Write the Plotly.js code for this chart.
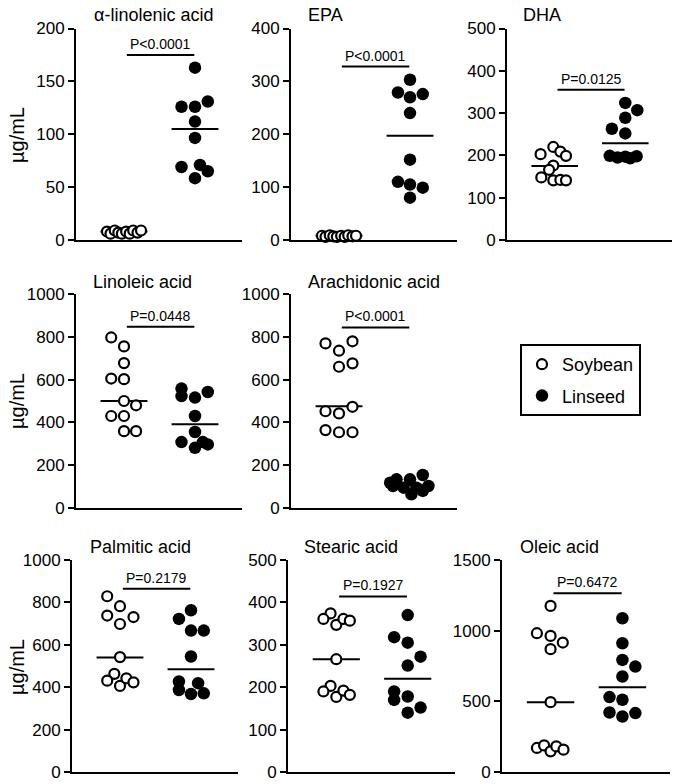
<!DOCTYPE html>
<html><head><meta charset="utf-8">
<script src="https://cdn.plot.ly/plotly-3.0.1.min.js"></script>
<style>html,body{margin:0;padding:0;background:#fff}</style>
</head><body>
<div id="chart" style="width:680px;height:784px"></div>
<script>
// ---------------- DATA ----------------
const groups = ['Soybean', 'Linseed'];
const panelTitles = ['α-linolenic acid', 'EPA', 'DHA', 'Linoleic acid', 'Arachidonic acid', 'Palmitic acid', 'Stearic acid', 'Oleic acid'];
const pLabels = ['P<0.0001', 'P<0.0001', 'P=0.0125', 'P=0.0448', 'P<0.0001', 'P=0.2179', 'P=0.1927', 'P=0.6472'];
const pBarLevel = [175, 328, 355, 847, 844, 864, 414, 1264];
const yMax = [200, 400, 500, 1000, 1000, 1000, 500, 1500];
const yStep = [50, 100, 100, 200, 200, 200, 100, 500];
const meanSoy = [8, 8, 175, 500, 475, 540, 266, 494];
const meanLin = [105, 197, 229, 391, 105, 485, 220, 600];

// α-linolenic acid
const alaSoy  = [8, 6, 9, 7, 6, 8, 6, 9, 7, 9];
const alaSoyJ = [-0.24, -0.19, -0.13, -0.08, -0.03, 0.03, 0.08, 0.13, 0.19, 0.24];
const alaLin  = [163, 126, 126, 131, 112, 96.5, 69, 71, 65, 58.5];
const alaLinJ = [0, -0.19, 0, 0.18, 0, 0, -0.19, 0.07, 0.18, 0];
// EPA
const epaSoy  = [8, 6, 9, 7, 6, 8, 6, 9, 7, 8];
const epaSoyJ = [-0.24, -0.19, -0.13, -0.08, -0.03, 0.03, 0.08, 0.13, 0.19, 0.24];
const epaLin  = [303, 279, 270, 276, 240, 152, 110, 105, 99, 80];
const epaLinJ = [0, -0.17, 0, 0.18, 0, 0, -0.17, 0, 0.18, 0];
// DHA
const dhaSoy  = [203, 220, 209, 199, 176, 166, 148, 141, 142, 141];
const dhaSoyJ = [-0.2, -0.02, 0.08, 0.16, -0.02, -0.08, -0.19, -0.02, 0.08, 0.16];
const dhaLin  = [324, 307, 289, 263, 252, 199, 195, 197, 193, 198];
const dhaLinJ = [0, 0.17, 0, -0.19, 0, -0.22, -0.11, 0, 0.07, 0.16];
// Linoleic acid
const laSoy   = [797, 755, 677, 605, 602, 500, 480, 430, 430, 359, 359];
const laSoyJ  = [-0.18, 0, 0, -0.18, 0, 0, 0.17, -0.18, 0, 0, 0.17];
const laLin   = [558, 523, 516, 542, 430, 355, 308, 281, 308, 297];
const laLinJ  = [-0.19, -0.19, 0, 0.18, 0, 0, -0.19, 0, 0.11, 0.18];
// Arachidonic acid
const aaSoy   = [769, 735, 779, 660, 676, 452, 442, 473, 364, 354, 354];
const aaSoyJ  = [-0.19, 0, 0.19, 0, 0.19, -0.19, 0, 0.19, -0.19, 0, 0.19];
const aaLin   = [154, 134, 134, 118, 103, 95, 95, 103, 64, 80];
const aaLinJ  = [0.18, -0.19, 0, -0.28, -0.24, -0.09, 0.09, 0.26, 0.02, 0.18];
// Palmitic acid
const paSoy   = [829, 738, 782, 731, 698, 542, 463, 431, 406, 442, 423];
const paSoyJ  = [-0.18, -0.18, 0, 0.19, 0, 0, -0.08, -0.18, 0, 0.09, 0.19];
const paLin   = [763, 722, 667, 667, 545, 427, 419, 387, 368, 371];
const paLinJ  = [0, -0.17, 0, 0.18, 0, -0.17, 0.1, -0.17, 0, 0.18];
// Stearic acid
const saSoy   = [374, 361, 347, 361, 357, 266, 203, 190, 177, 192, 182];
const saSoyJ  = [-0.08, -0.18, 0, 0.1, 0.19, 0, -0.08, -0.18, 0, 0.1, 0.19];
const saLin   = [370, 318, 305, 272, 251, 190, 170, 178, 140, 152];
const saLinJ  = [0, -0.19, 0, 0.18, 0, -0.19, -0.19, 0, 0, 0.18];
// Oleic acid
const oaSoy   = [1175, 982, 963, 916, 869, 494, 170, 188, 146, 181, 158];
const oaSoyJ  = [0, -0.19, 0, 0.17, 0, 0, -0.19, -0.09, 0, 0.08, 0.18];
const oaLin   = [1088, 911, 793, 746, 676, 530, 511, 421, 393, 417];
const oaLinJ  = [0, 0, 0, 0.18, 0, -0.18, 0, -0.18, 0, 0.18];

const soyData = [alaSoy, epaSoy, dhaSoy, laSoy, aaSoy, paSoy, saSoy, oaSoy];
const soyJit  = [alaSoyJ, epaSoyJ, dhaSoyJ, laSoyJ, aaSoyJ, paSoyJ, saSoyJ, oaSoyJ];
const linData = [alaLin, epaLin, dhaLin, laLin, aaLin, paLin, saLin, oaLin];
const linJit  = [alaLinJ, epaLinJ, dhaLinJ, laLinJ, aaLinJ, paLinJ, saLinJ, oaLinJ];

// ---------------- LAYOUT GEOMETRY ----------------
const W = 680, H = 784;
const boxes = [
  [76, 242, 28.5, 240], [291, 457, 28.5, 240], [507, 672, 28.5, 240],
  [76, 242, 294, 508], [291, 457, 294, 508],
  [72, 238, 560, 772], [288, 455, 560, 772], [502, 670, 560, 772]
];
const titlePos = [[153, 15], [325, 15], [542, 15], [142, 282], [374, 282], [140, 547], [351, 547], [559, 547]];
const yTitleRows = [135, 401, 667];
const FONT = 'Arial, "Liberation Sans", sans-serif';

const traces = [];
const annotations = [];
const layout = {
  width: W, height: H,
  margin: {l: 0, r: 0, t: 0, b: 0},
  paper_bgcolor: '#fff', plot_bgcolor: '#fff',
  font: {family: FONT, color: '#000'},
  hovermode: false,
  showlegend: true,
  legend: {
    x: 520 / W, y: 1 - 344 / H, xanchor: 'left', yanchor: 'top',
    bordercolor: '#000', borderwidth: 2, bgcolor: '#fff',
    font: {family: FONT, size: 18, color: '#000'},
    tracegroupgap: 5, entrywidth: 88, entrywidthmode: 'pixels'
  }
};

panelTitles.forEach((title, i) => {
  const n = i + 1;
  const sfx = n === 1 ? '' : String(n);
  const xa = 'x' + sfx, ya = 'y' + sfx;
  const b = boxes[i];

  // mean lines (drawn first, beneath the markers)
  traces.push({
    type: 'scatter', mode: 'lines', xaxis: xa, yaxis: ya, showlegend: false, hoverinfo: 'skip',
    x: [1 - 0.33, 1 + 0.33, null, 2 - 0.33, 2 + 0.33],
    y: [meanSoy[i], meanSoy[i], null, meanLin[i], meanLin[i]],
    line: {color: '#000', width: 2}, cliponaxis: false
  });
  // significance bar
  traces.push({
    type: 'scatter', mode: 'lines', xaxis: xa, yaxis: ya, showlegend: false, hoverinfo: 'skip',
    x: [1.04, 1.99], y: [pBarLevel[i], pBarLevel[i]],
    line: {color: '#000', width: 2}, cliponaxis: false
  });
  // Soybean
  traces.push({
    type: 'scatter', mode: 'markers', name: groups[0], legendgroup: 'soy', showlegend: i === 0,
    xaxis: xa, yaxis: ya, cliponaxis: false,
    x: soyJit[i].map(d => 1 + d), y: soyData[i],
    marker: {symbol: 'circle', size: 10, color: '#fff', line: {color: '#000', width: 2.2}}
  });
  // Linseed
  traces.push({
    type: 'scatter', mode: 'markers', name: groups[1], legendgroup: 'lin', showlegend: i === 0,
    xaxis: xa, yaxis: ya, cliponaxis: false,
    x: linJit[i].map(d => 2 + d), y: linData[i],
    marker: {symbol: 'circle', size: 12.5, color: '#000', line: {width: 0}}
  });

  layout['xaxis' + sfx] = {
    domain: [b[0] / W, b[1] / W], range: [0.324, 2.662], anchor: ya,
    showline: true, linewidth: 2, linecolor: '#000',
    showticklabels: false, ticks: '', showgrid: false, zeroline: false, fixedrange: true
  };
  layout['yaxis' + sfx] = {
    domain: [1 - b[3] / H, 1 - b[2] / H], range: [0, yMax[i]], anchor: xa,
    tick0: 0, dtick: yStep[i], ticks: 'outside', ticklen: 6, tickwidth: 2, tickcolor: '#000',
    showline: true, linewidth: 2, linecolor: '#000',
    showgrid: false, zeroline: false, fixedrange: true,
    tickfont: {family: FONT, size: 17, color: '#000'}
  };

  // panel title
  annotations.push({
    xref: 'paper', yref: 'paper', x: titlePos[i][0] / W, y: 1 - titlePos[i][1] / H,
    xanchor: 'center', yanchor: 'middle', showarrow: false,
    text: title, font: {family: FONT, size: 18, color: '#000'}
  });
  // p-value label
  annotations.push({
    xref: xa, yref: ya, x: 1.515, y: pBarLevel[i], xanchor: 'center', yanchor: 'bottom',
    yshift: 1, showarrow: false, text: pLabels[i],
    font: {family: FONT, size: 14, color: '#000'}
  });
});

yTitleRows.forEach(py => {
  annotations.push({
    xref: 'paper', yref: 'paper', x: 17 / W, y: 1 - py / H, xanchor: 'center', yanchor: 'middle',
    showarrow: false, textangle: -90, text: 'µg/mL',
    font: {family: FONT, size: 20, color: '#000'}
  });
});
layout.annotations = annotations;

Plotly.newPlot('chart', traces, layout, {displayModeBar: false, staticPlot: true});
</script>
</body></html>
